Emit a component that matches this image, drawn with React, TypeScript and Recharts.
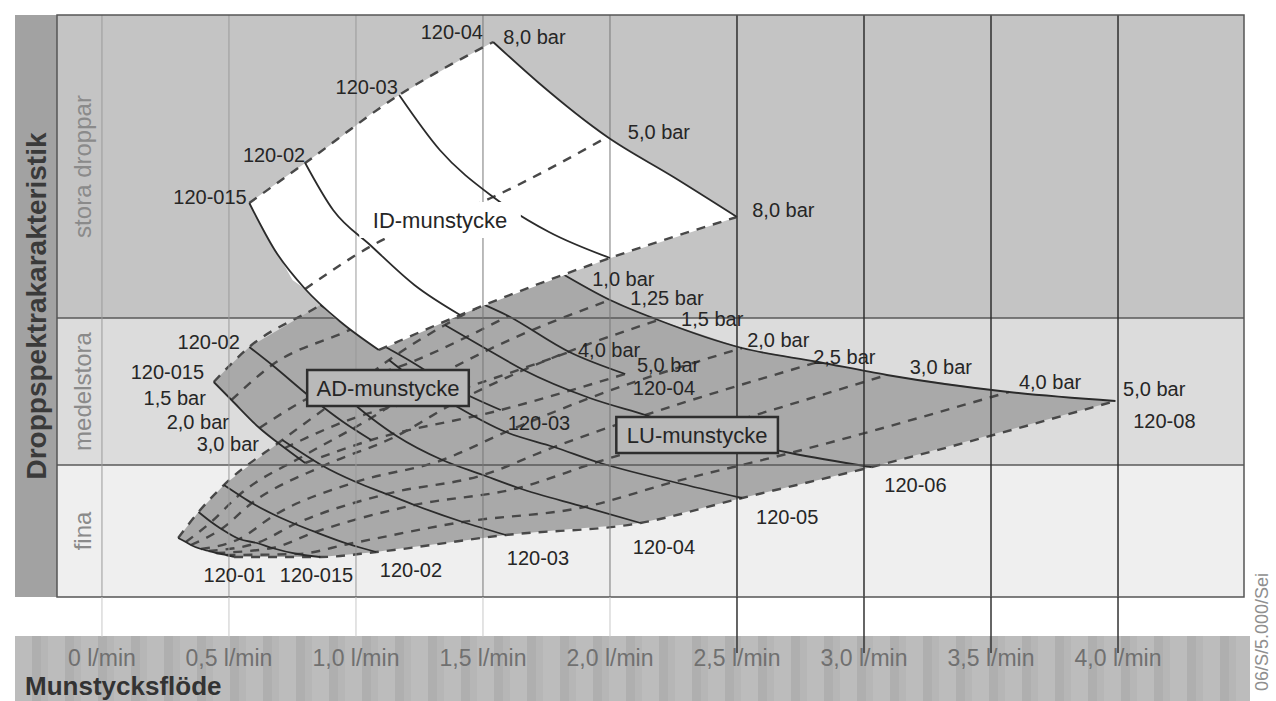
import React from 'react';
import {
  ComposedChart, Line, Area, Scatter, XAxis, YAxis,
  ReferenceArea, ReferenceLine,
} from 'recharts';

const FONT = '"Liberation Sans", Arial, Helvetica, sans-serif';

// x: nozzle flow (l/min)
const FLOW_TICKS = [0, 0.5, 1, 1.5, 2, 2.5, 3, 3.5, 4];
const FLOW_LABELS = ['0 l/min', '0,5 l/min', '1,0 l/min', '1,5 l/min', '2,0 l/min', '2,5 l/min', '3,0 l/min', '3,5 l/min', '4,0 l/min'];
const FLOW_DOMAIN = [-0.177, 4.496];

// y: droplet spectrum index (no printed scale)
const DROP_DOMAIN = [0, 582];
const BAND_NAMES = ['fina', 'medelstora', 'stora droppar'];
const BAND_LIMITS = [0, 132, 279, 582];
const BAND_FILLS = ['#efefef', '#dcdcdc', '#c4c4c4'];

// LU nozzles, 1,0 - 5,0 bar
const LU_NOZZLES = ['120-01', '120-015', '120-02', '120-03', '120-04', '120-05', '120-06', '120-08'];
const LU_PRESSURES = ['1,0', '1,25', '1,5', '2,0', '2,5', '3,0', '4,0', '5,0'];
const LU_FLOW = [
  [0.30, 0.33, 0.35, 0.39, 0.42, 0.45, 0.49, 0.52],
  [0.38, 0.43, 0.47, 0.54, 0.61, 0.67, 0.77, 0.86],
  [0.48, 0.54, 0.59, 0.68, 0.76, 0.84, 0.97, 1.08],
  [0.71, 0.80, 0.87, 1.00, 1.12, 1.23, 1.42, 1.59],
  [0.95, 1.06, 1.16, 1.34, 1.50, 1.64, 1.90, 2.12],
  [1.13, 1.26, 1.38, 1.59, 1.78, 1.95, 2.25, 2.52],
  [1.35, 1.52, 1.66, 1.92, 2.14, 2.35, 2.71, 3.03],
  [1.80, 2.00, 2.19, 2.52, 2.82, 3.09, 3.57, 3.99],
];
const LU_DROP = [
  [59, 55, 52, 48, 46, 44, 42, 40],
  [85, 75, 68, 58, 54, 49, 43, 40],
  [112, 102, 94, 82, 73, 65, 53, 45],
  [157, 142, 131, 115, 103, 92, 75, 62],
  [202, 179, 161, 137, 122, 109, 90, 74],
  [237, 212, 193, 165, 150, 135, 115, 99],
  [272, 247, 227, 199, 182, 165, 144, 130],
  [325, 297, 277, 249, 235, 222, 205, 196],
];

// AD nozzles, 1,5 - 5,0 bar
const AD_NOZZLES = ['120-015', '120-02', '120-03', '120-04'];
const AD_PRESSURES = ['1,5', '2,0', '3,0', '4,0', '5,0'];
const AD_FLOW = [
  [0.44, 0.51, 0.62, 0.72, 0.80],
  [0.58, 0.67, 0.82, 0.95, 1.06],
  [0.86, 0.99, 1.22, 1.40, 1.57],
  [1.13, 1.30, 1.60, 1.84, 2.06],
];
const AD_DROP = [
  [215, 197, 169, 149, 134],
  [250, 232, 200, 175, 157],
  [292, 269, 235, 207, 187],
  [339, 315, 281, 245, 223],
];

// ID nozzles, readings along each curve; pressure points at index 0, 2, 4
const ID_NOZZLES = ['120-015', '120-02', '120-03', '120-04'];
const ID_PRESSURE_POINTS = [0, 2, 4];
const ID_FLOW = [
  [0.58, 0.68, 0.80, 0.94, 1.09],
  [0.80, 0.91, 1.06, 1.23, 1.41],
  [1.17, 1.33, 1.54, 1.76, 2.00],
  [1.54, 1.72, 1.99, 2.25, 2.50],
];
const ID_DROP = [
  [394, 347, 308, 275, 247],
  [434, 387, 351, 312, 282],
  [502, 447, 400, 365, 339],
  [555, 514, 460, 420, 380],
];

// field outlines (lower / upper edge)
const ID_AREA_Q = [0.58, 0.75, 0.80, 0.91, 1.09, 1.17, 1.41, 1.54, 1.72, 1.99, 2.25, 2.50];
const ID_AREA_LO = [394, 317, 308, 280, 247, 255, 282, 295, 312, 338, 359, 380];
const ID_AREA_HI = [394, 425, 434, 454, 489, 502, 537, 555, 514, 460, 420, 380];

const AD_AREA_Q = [0.44, 0.51, 0.58, 0.62, 0.72, 0.80, 0.86, 1.06, 1.13, 1.30, 1.57, 1.60, 1.84, 2.06];
const AD_AREA_LO = [215, 197, 179, 169, 149, 134, 139, 157, 161, 171, 187, 189, 207, 223];
const AD_AREA_HI = [215, 233, 250, 256, 271, 283, 292, 327, 339, 315, 284, 281, 245, 223];

const LU_AREA_Q = [0.30, 0.38, 0.48, 0.52, 0.71, 0.86, 0.95, 1.08, 1.13, 1.35, 1.59, 1.80, 2.00, 2.12, 2.19, 2.52, 2.82, 3.03, 3.09, 3.57, 3.99];
const LU_AREA_LO = [59, 49, 43, 40, 40, 40, 42, 45, 47, 54, 62, 67, 71, 74, 78, 99, 117, 130, 134, 167, 196];
const LU_AREA_HI = [59, 85, 112, 120, 157, 185, 202, 227, 237, 272, 300, 325, 297, 284, 277, 249, 235, 225, 222, 205, 196];

// annotations
const NOTES = [
  { text: '120-015', q: 0.57, v: 400, anchor: 'end' },
  { text: '120-02', q: 0.80, v: 442, anchor: 'end' },
  { text: '120-03', q: 1.165, v: 510, anchor: 'end' },
  { text: '120-04', q: 1.50, v: 565, anchor: 'end' },
  { text: '8,0 bar', q: 1.58, v: 560, anchor: 'start' },
  { text: '5,0 bar', q: 2.07, v: 465, anchor: 'start' },
  { text: '8,0 bar', q: 2.56, v: 387, anchor: 'start' },

  { text: '120-02', q: 0.543, v: 255, anchor: 'end' },
  { text: '120-015', q: 0.402, v: 225, anchor: 'end' },
  { text: '1,5 bar', q: 0.409, v: 199, anchor: 'end' },
  { text: '2,0 bar', q: 0.50, v: 175, anchor: 'end' },
  { text: '3,0 bar', q: 0.618, v: 153, anchor: 'end' },
  { text: '4,0 bar', q: 1.874, v: 247, anchor: 'start' },
  { text: '5,0 bar', q: 2.106, v: 232, anchor: 'start' },
  { text: '120-04', q: 2.09, v: 209, anchor: 'start' },
  { text: '120-03', q: 1.598, v: 174, anchor: 'start' },

  { text: '1,0 bar', q: 1.93, v: 318, anchor: 'start' },
  { text: '1,25 bar', q: 2.08, v: 299, anchor: 'start' },
  { text: '1,5 bar', q: 2.28, v: 278, anchor: 'start' },
  { text: '2,0 bar', q: 2.54, v: 257, anchor: 'start' },
  { text: '2,5 bar', q: 2.80, v: 240, anchor: 'start' },
  { text: '3,0 bar', q: 3.18, v: 230, anchor: 'start' },
  { text: '4,0 bar', q: 3.61, v: 215, anchor: 'start' },
  { text: '5,0 bar', q: 4.02, v: 208, anchor: 'start' },
  { text: '120-08', q: 4.06, v: 176, anchor: 'start' },
  { text: '120-06', q: 3.08, v: 112, anchor: 'start' },
  { text: '120-05', q: 2.575, v: 80, anchor: 'start' },
  { text: '120-04', q: 2.09, v: 50, anchor: 'start' },
  { text: '120-03', q: 1.594, v: 39, anchor: 'start' },
  { text: '120-02', q: 1.094, v: 27, anchor: 'start' },
  { text: '120-015', q: 0.70, v: 22, anchor: 'start' },
  { text: '120-01', q: 0.40, v: 22, anchor: 'start' },
];
const BOXES = [
  { text: 'ID-munstycke', q: 1.331, v: 377, framed: false },
  { text: 'AD-munstycke', q: 1.126, v: 209, framed: true },
  { text: 'LU-munstycke', q: 2.343, v: 162, framed: true },
];

const curves = (flows: number[][], drops: number[][]) =>
  flows.map((row, i) => row.map((q, j) => ({ q, v: drops[i][j] })));
const isobars = (flows: number[][], drops: number[][], cols: number[]) =>
  cols.map(j => flows.map((row, i) => ({ q: row[j], v: drops[i][j] })));
const field = (qs: number[], lo: number[], hi: number[]) =>
  qs.map((q, i) => ({ q, range: [lo[i], hi[i]] }));

const luCurves = curves(LU_FLOW, LU_DROP);
const luIsobars = isobars(LU_FLOW, LU_DROP, LU_PRESSURES.map((_, j) => j));
const adCurves = curves(AD_FLOW, AD_DROP);
const adIsobars = isobars(AD_FLOW, AD_DROP, AD_PRESSURES.map((_, j) => j));
const idCurves = curves(ID_FLOW, ID_DROP);
const idIsobars = isobars(ID_FLOW, ID_DROP, ID_PRESSURE_POINTS);

const SOLID = { stroke: '#2b2b2b', strokeWidth: 1.8 };
const DASHED = { stroke: '#484848', strokeWidth: 2.4, strokeDasharray: '9 8' };

function FlowTick(props: any) {
  const { x, y, payload } = props;
  const dark = payload.value >= 2.5;
  const label = FLOW_LABELS[FLOW_TICKS.indexOf(payload.value)];
  return (
    <g>
      <line x1={x} y1={y} x2={x} y2={y + (dark ? 56 : 40)}
        stroke={dark ? '#333' : '#c8c8c8'} strokeWidth={dark ? 1.5 : 1} />
      <text x={x} y={y + 69} textAnchor="middle" fontSize={23} fill="#707070" fontFamily={FONT}>
        {label}
      </text>
    </g>
  );
}

function NoteShape(props: any) {
  const { cx, cy, payload } = props;
  return (
    <text x={cx} y={cy} dy="0.36em" textAnchor={payload.anchor} fontSize={20}
      fill="#262626" fontFamily={FONT}>
      {payload.text}
    </text>
  );
}

function BoxShape(props: any) {
  const { cx, cy, payload } = props;
  const w = payload.text.length * 12.8 + 8;
  const h = 36;
  return (
    <g>
      <rect x={cx - w / 2} y={cy - h / 2} width={w} height={h}
        fill={payload.framed ? '#b9b9b9' : '#ffffff'}
        stroke={payload.framed ? '#2e2e2e' : 'none'} strokeWidth={2.5} />
      <text x={cx} y={cy} dy="0.36em" textAnchor="middle" fontSize={22}
        fill="#262626" fontFamily={FONT}>
        {payload.text}
      </text>
    </g>
  );
}

export default function App() {
  return (
    <div style={{ position: 'absolute', left: 0, top: 0, width: 1276, height: 701, background: '#fff', overflow: 'hidden', fontFamily: FONT }}>
      <div style={{
        position: 'absolute', left: 15, top: 636, width: 1235, height: 65,
        background: 'repeating-linear-gradient(90deg, #bcbcbc 0px, #bcbcbc 17px, #afafaf 17px, #afafaf 26px, #b6b6b6 26px, #b6b6b6 33px)',
      }} />
      <div style={{
        position: 'absolute', left: 1262, top: 632, transform: 'translate(-50%, -50%) rotate(-90deg)',
        whiteSpace: 'nowrap', fontSize: 18, color: '#8f8f8f',
      }}>
        06/S/5.000/Sei
      </div>
      <div style={{ position: 'absolute', left: 0, top: 0 }}>
        <ComposedChart width={1276} height={701} margin={{ top: 15, right: 32, bottom: 0, left: 15 }}>
          <XAxis type="number" dataKey="q" domain={FLOW_DOMAIN} ticks={FLOW_TICKS} interval={0}
            allowDataOverflow height={104} axisLine={false} tickLine={false} tickSize={0} tickMargin={0}
            tick={<FlowTick />}
            label={(p: any) => (
              <text x={p.viewBox.x - 32} y={p.viewBox.y + 98} fontSize={26} fontWeight="bold"
                fill="#333" fontFamily={FONT}>
                Munstycksflöde
              </text>
            )} />
          <YAxis type="number" dataKey="v" domain={DROP_DOMAIN} allowDataOverflow width={42}
            tick={false} axisLine={false} tickLine={false}
            label={(p: any) => {
              const { x, y, width, height } = p.viewBox;
              const cx = x + width / 2;
              const cy = y + height / 2;
              return (
                <g>
                  <rect x={x} y={y} width={width} height={height} fill="#a2a2a2" />
                  <text x={cx} y={cy} dy="0.36em" textAnchor="middle" fontSize={28} fontWeight="bold"
                    fill="#3a3a3a" fontFamily={FONT} transform={`rotate(-90, ${cx}, ${cy})`}>
                    Droppspektrakarakteristik
                  </text>
                </g>
              );
            }} />

          {BAND_NAMES.map((name, i) => (
            <ReferenceArea key={name} x1={FLOW_DOMAIN[0]} x2={FLOW_DOMAIN[1]}
              y1={BAND_LIMITS[i]} y2={BAND_LIMITS[i + 1]} fill={BAND_FILLS[i]} fillOpacity={1}
              stroke="none" zIndex={-200}
              label={(p: any) => {
                const cx = p.viewBox.x + 25;
                const cy = p.viewBox.y + p.viewBox.height / 2;
                return (
                  <text x={cx} y={cy} dy="0.36em" textAnchor="middle" fontSize={24} fill="#8a8a8a"
                    fontFamily={FONT} transform={`rotate(-90, ${cx}, ${cy})`}>
                    {name}
                  </text>
                );
              }} />
          ))}

          <Area data={field(AD_AREA_Q, AD_AREA_LO, AD_AREA_HI)} dataKey="range" type="linear"
            stroke="none" fill="#a9a9a9" fillOpacity={1} isAnimationActive={false} activeDot={false} zIndex={100} />
          <Area data={field(LU_AREA_Q, LU_AREA_LO, LU_AREA_HI)} dataKey="range" type="linear"
            stroke="none" fill="#a9a9a9" fillOpacity={1} isAnimationActive={false} activeDot={false} zIndex={100} />

          {luIsobars.map((d, i) => (
            <Line key={'lup' + i} data={d} dataKey="v" type="monotone" {...DASHED}
              dot={false} activeDot={false} isAnimationActive={false} zIndex={200} />
          ))}
          {adIsobars.map((d, i) => (
            <Line key={'adp' + i} data={d} dataKey="v" type="monotone" {...DASHED}
              dot={false} activeDot={false} isAnimationActive={false} zIndex={200} />
          ))}
          {luCurves.map((d, i) => (
            <Line key={'lun' + i} data={d} dataKey="v" type="monotone" {...SOLID}
              dot={false} activeDot={false} isAnimationActive={false} zIndex={200} />
          ))}
          {adCurves.map((d, i) => (
            <Line key={'adn' + i} data={d} dataKey="v" type="monotone" {...SOLID}
              dot={false} activeDot={false} isAnimationActive={false} zIndex={200} />
          ))}

          {BAND_LIMITS.slice(1, 3).map(v => (
            <ReferenceLine key={'band' + v} y={v} stroke="#5a5a5a" strokeWidth={1.5} zIndex={250} />
          ))}

          <Area data={field(ID_AREA_Q, ID_AREA_LO, ID_AREA_HI)} dataKey="range" type="linear"
            stroke="none" fill="#ffffff" fillOpacity={1} isAnimationActive={false} activeDot={false} zIndex={300} />

          {FLOW_TICKS.map(q => (
            <ReferenceLine key={'grid' + q} x={q} zIndex={350}
              stroke={q >= 2.5 ? '#2f2f2f' : q >= 1.5 ? '#777' : '#9a9a9a'}
              strokeWidth={q >= 2.5 ? 1.5 : 1} />
          ))}

          {idIsobars.map((d, i) => (
            <Line key={'idp' + i} data={d} dataKey="v" type="monotone" {...DASHED}
              dot={false} activeDot={false} isAnimationActive={false} zIndex={400} />
          ))}
          {idCurves.map((d, i) => (
            <Line key={'idn' + i} data={d} dataKey="v" type="monotone" {...SOLID}
              dot={false} activeDot={false} isAnimationActive={false} zIndex={400} />
          ))}

          <Scatter data={BOXES} shape={BoxShape} isAnimationActive={false} zIndex={600} />
          <Scatter data={NOTES} shape={NoteShape} isAnimationActive={false} zIndex={610} />

          <ReferenceArea x1={FLOW_DOMAIN[0]} x2={FLOW_DOMAIN[1]} y1={DROP_DOMAIN[0]} y2={DROP_DOMAIN[1]}
            fill="none" stroke="#555" strokeWidth={1.5} zIndex={700} />
        </ComposedChart>
      </div>
    </div>
  );
}
